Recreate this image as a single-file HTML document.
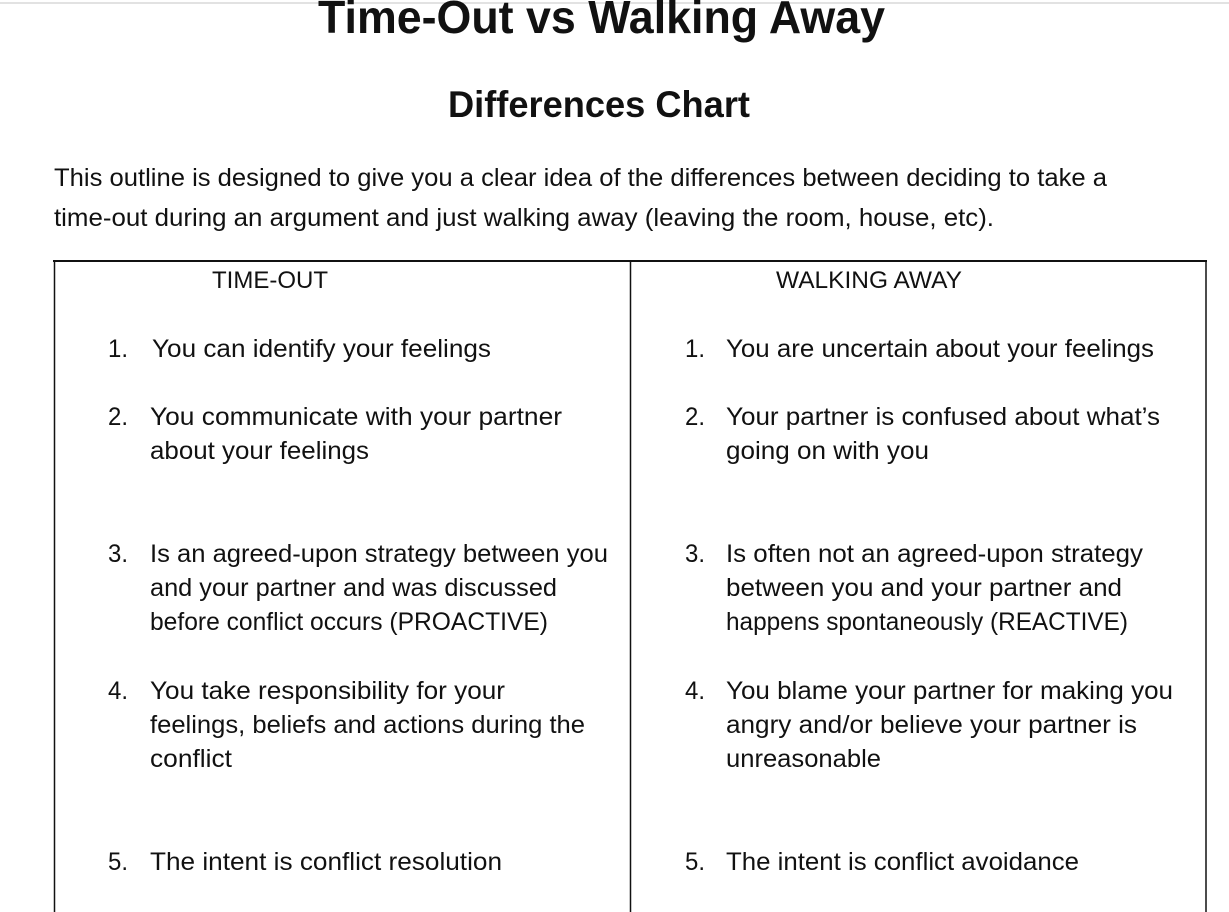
<!DOCTYPE html>
<html><head><meta charset="utf-8"><style>
html,body{margin:0;padding:0;background:#fff;width:1229px;height:912px;overflow:hidden}
text{font-family:"Liberation Sans",sans-serif;fill:#111}
</style></head><body>
<svg width="1229" height="912" viewBox="0 0 1229 912" xmlns="http://www.w3.org/2000/svg">
<rect x="0" y="0" width="1229" height="912" fill="#fff"/>
<line x1="0" y1="3" x2="1229" y2="3" stroke="#d8d8d8" stroke-width="1.5"/>
<text x="318" y="33" font-size="46" font-weight="bold" textLength="567" lengthAdjust="spacingAndGlyphs">Time-Out vs Walking Away</text>
<text x="448" y="117" font-size="37" font-weight="bold" textLength="302" lengthAdjust="spacingAndGlyphs">Differences Chart</text>
<g font-size="25">
<text x="54" y="186" textLength="1053" lengthAdjust="spacingAndGlyphs">This outline is designed to give you a clear idea of the differences between deciding to take a</text>
<text x="54" y="226" textLength="940" lengthAdjust="spacingAndGlyphs">time-out during an argument and just walking away (leaving the room, house, etc).</text>
</g>
<g stroke="#111" fill="none">
<line x1="53" y1="261" x2="1207" y2="261" stroke-width="2"/>
<line x1="54.5" y1="261" x2="54.5" y2="912" stroke-width="1.5"/>
<line x1="630.5" y1="261" x2="630.5" y2="912" stroke-width="1.5"/>
<line x1="1206" y1="261" x2="1206" y2="912" stroke-width="1.5"/>
</g>
<g font-size="25">
<text x="212" y="288" font-size="24" textLength="116" lengthAdjust="spacingAndGlyphs">TIME-OUT</text>
<text x="776" y="288" font-size="24" textLength="186" lengthAdjust="spacingAndGlyphs">WALKING AWAY</text>

<text x="108" y="357" textLength="20" lengthAdjust="spacingAndGlyphs">1.</text>
<text x="152" y="357" textLength="339" lengthAdjust="spacingAndGlyphs">You can identify your feelings</text>
<text x="108" y="425" textLength="20" lengthAdjust="spacingAndGlyphs">2.</text>
<text x="150" y="425" textLength="412" lengthAdjust="spacingAndGlyphs">You communicate with your partner</text>
<text x="150" y="459" textLength="219" lengthAdjust="spacingAndGlyphs">about your feelings</text>
<text x="108" y="562" textLength="20" lengthAdjust="spacingAndGlyphs">3.</text>
<text x="150" y="562" textLength="458" lengthAdjust="spacingAndGlyphs">Is an agreed-upon strategy between you</text>
<text x="150" y="596" textLength="407" lengthAdjust="spacingAndGlyphs">and your partner and was discussed</text>
<text x="150" y="630" textLength="398" lengthAdjust="spacingAndGlyphs">before conflict occurs (PROACTIVE)</text>
<text x="108" y="699" textLength="20" lengthAdjust="spacingAndGlyphs">4.</text>
<text x="150" y="699" textLength="355" lengthAdjust="spacingAndGlyphs">You take responsibility for your</text>
<text x="150" y="733" textLength="435" lengthAdjust="spacingAndGlyphs">feelings, beliefs and actions during the</text>
<text x="150" y="767" textLength="82" lengthAdjust="spacingAndGlyphs">conflict</text>
<text x="108" y="870" textLength="20" lengthAdjust="spacingAndGlyphs">5.</text>
<text x="150" y="870" textLength="352" lengthAdjust="spacingAndGlyphs">The intent is conflict resolution</text>

<text x="685" y="357" textLength="20" lengthAdjust="spacingAndGlyphs">1.</text>
<text x="726" y="357" textLength="428" lengthAdjust="spacingAndGlyphs">You are uncertain about your feelings</text>
<text x="685" y="425" textLength="20" lengthAdjust="spacingAndGlyphs">2.</text>
<text x="726" y="425" textLength="434" lengthAdjust="spacingAndGlyphs">Your partner is confused about what’s</text>
<text x="726" y="459" textLength="203" lengthAdjust="spacingAndGlyphs">going on with you</text>
<text x="685" y="562" textLength="20" lengthAdjust="spacingAndGlyphs">3.</text>
<text x="726" y="562" textLength="417" lengthAdjust="spacingAndGlyphs">Is often not an agreed-upon strategy</text>
<text x="726" y="596" textLength="396" lengthAdjust="spacingAndGlyphs">between you and your partner and</text>
<text x="726" y="630" textLength="402" lengthAdjust="spacingAndGlyphs">happens spontaneously (REACTIVE)</text>
<text x="685" y="699" textLength="20" lengthAdjust="spacingAndGlyphs">4.</text>
<text x="726" y="699" textLength="447" lengthAdjust="spacingAndGlyphs">You blame your partner for making you</text>
<text x="726" y="733" textLength="411" lengthAdjust="spacingAndGlyphs">angry and/or believe your partner is</text>
<text x="726" y="767" textLength="155" lengthAdjust="spacingAndGlyphs">unreasonable</text>
<text x="685" y="870" textLength="20" lengthAdjust="spacingAndGlyphs">5.</text>
<text x="726" y="870" textLength="353" lengthAdjust="spacingAndGlyphs">The intent is conflict avoidance</text>
</g>
</svg>
</body></html>
